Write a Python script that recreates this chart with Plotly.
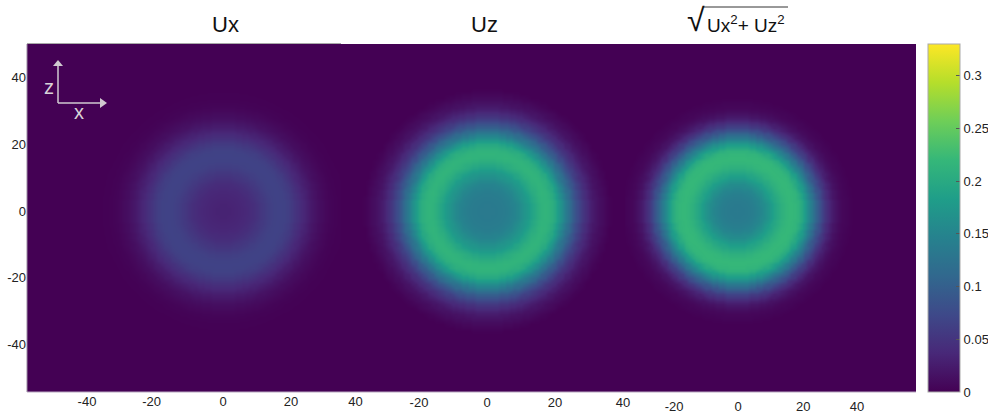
import numpy as np
import plotly.graph_objects as go

# Radial profiles: value every half data unit of radius from the ring centre
ux_profile = [.032,.032,.032,.032,.032,.0325,.033,.0335,.034,.0345,.035,.0355,.036,.037,.038,.0395,.041,.0425,.044,.046,.048,.050,.052,.054,.056,.058,.060,.0615,.063,.064,.065,.0655,.066,.066,.066,.0655,.065,.0635,.062,.0595,.057,.054,.051,.048,.045,.042,.039,.036,.033,.030,.027,.0245,.022,.0195,.017,.015,.013,.0115,.010,.0085,.007,.006,.005,.004,.003,.0025,.002,.0015,.001,.001,.001,.0005,0]
uz_profile = [.135,.135,.135,.135,.135,.1355,.136,.1365,.137,.1375,.138,.139,.140,.142,.144,.146,.148,.1515,.155,.1585,.162,.166,.170,.174,.178,.183,.188,.193,.198,.202,.206,.209,.212,.2135,.215,.214,.213,.210,.207,.2015,.196,.188,.180,.1705,.161,.151,.141,.131,.121,.1115,.102,.0935,.085,.077,.069,.062,.055,.049,.043,.038,.033,.029,.025,.0215,.018,.0155,.013,.011,.009,.007,.005,.0035,.002]
mag_profile = [.135,.135,.135,.1355,.136,.1365,.137,.138,.139,.1405,.142,.144,.146,.149,.152,.156,.160,.165,.170,.175,.180,.185,.190,.195,.200,.204,.208,.2115,.215,.217,.219,.2195,.220,.219,.218,.215,.212,.205,.197,.188,.178,.168,.157,.146,.134,.122,.110,.099,.088,.078,.068,.059,.051,.043,.036,.030,.025,.020,.016,.013,.010,.008,.006,.005,.004,.003,.002,.001,0]

grid_step = 1
x_tick_vals = {"p1": [-40, -21, 0, 20, 39], "p2": [-20, 0, 20, 40], "p3": [-18.5, 0.3, 19.5, 35.3]}
x_tick_text = {"p1": ["-40", "-20", "0", "20", "40"], "p2": ["-20", "0", "20", "40"], "p3": ["-20", "0", "20", "40"]}
y_tick_vals = [-40, -20, 0, 20, 40]
y_tick_text = ["-40", "-20", "0", "20", "40"]
cbar_ticks = [0, 0.05, 0.1, 0.15, 0.2, 0.25, 0.3]
cbar_text = ["0", "0.05", "0.1", "0.15", "0.2", "0.25", "0.3"]
z_max = 0.33

W, H = 988, 416
FONT = "Liberation Sans, Arial, sans-serif"
SCALE = 3.4
TOP, BOT = 44, 392
YR = [(211 - BOT) / 3.33, (211 - TOP) / 3.33]
px = lambda v: v / W
py = lambda v: 1 - v / H

panels = [
    dict(key="p1", prof=ux_profile, cx=223, left=27, right=372, draw_right=341),
    dict(key="p2", prof=uz_profile, cx=487, left=341, right=640, draw_right=625),
    dict(key="p3", prof=mag_profile, cx=737, left=625, right=916, draw_right=916),
]

fig = go.Figure()
layout = {}
for i, p in enumerate(panels, 1):
    xr = [(p["left"] - p["cx"]) / SCALE, (p["right"] - p["cx"]) / SCALE]
    xs = np.arange(np.floor(xr[0]), np.ceil((p["draw_right"] - p["cx"]) / SCALE) + grid_step, grid_step)
    ys = np.arange(np.floor(YR[0]), np.ceil(YR[1]) + grid_step, grid_step)
    xx, yy = np.meshgrid(xs, ys)
    idx = np.rint(2 * np.hypot(xx, yy)).astype(int)
    prof = np.array(p["prof"])
    z = np.where(idx < len(prof), prof[np.minimum(idx, len(prof) - 1)], 0.0)
    fig.add_trace(go.Heatmap(x=xs, y=ys, z=z, coloraxis="coloraxis", zsmooth="best",
                             xaxis=f"x{i}", yaxis=f"y{i}", hoverinfo="skip"))
    suf = "" if i == 1 else str(i)
    layout[f"xaxis{suf}"] = dict(domain=[px(p["left"]), px(p["right"])], range=xr, anchor=f"y{suf}",
                                 tickmode="array", tickvals=x_tick_vals[p["key"]], ticktext=x_tick_text[p["key"]],
                                 showgrid=False, zeroline=False, ticks="", ticklabelstandoff={1: 0, 2: 1, 3: 5}[i],
                                 tickfont=dict(family=FONT, size=13, color="#222"), automargin=False)
    layout[f"yaxis{suf}"] = dict(domain=[py(BOT), py(TOP)], range=YR, anchor=f"x{suf}",
                                 tickmode="array", tickvals=y_tick_vals, ticktext=y_tick_text,
                                 showgrid=False, zeroline=False, ticks="",
                                 visible=(i == 1), tickfont=dict(family=FONT, size=13, color="#222"),
                                 automargin=False)

fig.update_layout(
    **layout, width=W, height=H, margin=dict(l=0, r=0, t=0, b=0, autoexpand=False),
    paper_bgcolor="white", plot_bgcolor="#440154", showlegend=False,
    coloraxis=dict(cmin=0, cmax=z_max, colorscale="Viridis",
                   colorbar=dict(x=px(928), xanchor="left", y=py(BOT), yanchor="bottom",
                                 thickness=32, thicknessmode="pixels", len=BOT - TOP, lenmode="pixels",
                                 tickmode="array", tickvals=cbar_ticks, ticktext=cbar_text, ticks="inside", ticklen=4,
                                 tickcolor="#555", tickwidth=1, outlinecolor="#a9a9a9", outlinewidth=1,
                                 xpad=0, ypad=0, tickfont=dict(family=FONT, size=13, color="#222"))),
)

def text(x, y, s, size, color="#111"):
    fig.add_annotation(xref="paper", yref="paper", x=px(x), y=py(y), text=s, showarrow=False,
                       xanchor="center", yanchor="middle", font=dict(family=FONT, size=size, color=color))

text(225, 24, "Ux", 22)
text(484, 24, "Uz", 22)
text(696, 20, "√", 32)
text(746, 24, "Ux<sup>2</sup>+ Uz<sup>2</sup>", 19)
text(49, 87, "z", 20, "#d8d2d8")
text(79, 112, "x", 20, "#d8d2d8")

ARROW = "#d0cad0"
def seg(x0, y0, x1, y1, color, width=1):
    fig.add_shape(type="line", xref="paper", yref="paper", x0=px(x0), x1=px(x1), y0=py(y0), y1=py(y1),
                  line=dict(color=color, width=width))
def tri(a, b, c, color):
    d = "M" + " L".join(f"{px(x):.5f},{py(y):.5f}" for x, y in (a, b, c)) + " Z"
    fig.add_shape(type="path", xref="paper", yref="paper", path=d, fillcolor=color, line=dict(color=color, width=0))

seg(58, 103, 58, 66, ARROW, 1.5)
seg(58, 103, 101, 103, ARROW, 1.5)
tri((58, 60), (53, 66), (63, 66), ARROW)
tri((107, 103), (100, 98), (100, 108), ARROW)

seg(27, 43.5, 341, 43.5, "#a8a8a8")
seg(27, 44, 27, 392, "#9a8aa0")
seg(27, 392, 916, 392, "#b8a8c0")
seg(703, 7, 788, 7, "#333")

fig.write_html("out.html", post_script="document.body.style.margin='0';", config={"displayModeBar": False})
